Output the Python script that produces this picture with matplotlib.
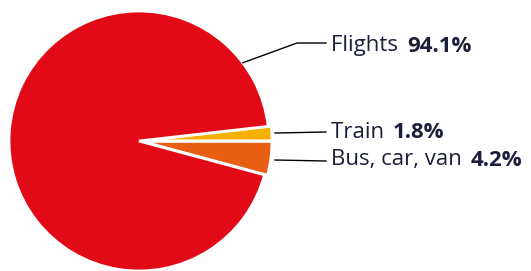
import numpy as np
import matplotlib
matplotlib.use("Agg")
import matplotlib.pyplot as plt

# data
modes = ["Bus, car, van", "Train", "Flights"]
shares = [4.2, 1.8, 94.1]
colors = ["#E85E13", "#F7B000", "#E20A16"]

W, H = 531, 271
fig = plt.figure(figsize=(W / 100, H / 100), dpi=100)
ax = fig.add_axes([0, 0, 1, 1])
ax.set_xlim(0, W)
ax.set_ylim(0, H)
ax.set_aspect("equal")
ax.axis("off")

cx, cy, r = 139, 130, 130
start = -shares[0] / sum(shares) * 360
wedges, _ = ax.pie(shares, colors=colors, startangle=start, counterclock=True,
                   center=(cx, cy), radius=r, explode=[3, 3, 0],
                   wedgeprops=dict(edgecolor="white", linewidth=2))
ax.set_xlim(0, W)
ax.set_ylim(0, H)

font = "Open Sans"
fs = 16
tc = "#1b1f3a"

def label(x, y, name, pct):
    t = ax.text(x, y, name + " ", fontsize=fs, family=font, va="center", color=tc)
    fig.canvas.draw()
    bb = t.get_window_extent().transformed(ax.transData.inverted())
    ax.text(bb.x1 + 3, y, f"{pct}%", fontsize=fs, family=font, fontweight="bold",
            va="center", color=tc)

lk = dict(color="black", lw=1)
# Flights leader
a = np.deg2rad(37)
ax.plot([cx + r * np.cos(a), 297, 326], [cy + r * np.sin(a), H - 43, H - 43], **lk)
ax.plot([275, 326], [H - 133, H - 132], **lk)
ax.plot([275, 326], [H - 160, H - 161], **lk)

label(331, H - 46, modes[2], shares[2])
label(331, H - 133, modes[1], shares[1])
label(331, H - 160, modes[0], shares[0])

fig.savefig("out.png", dpi=100)
